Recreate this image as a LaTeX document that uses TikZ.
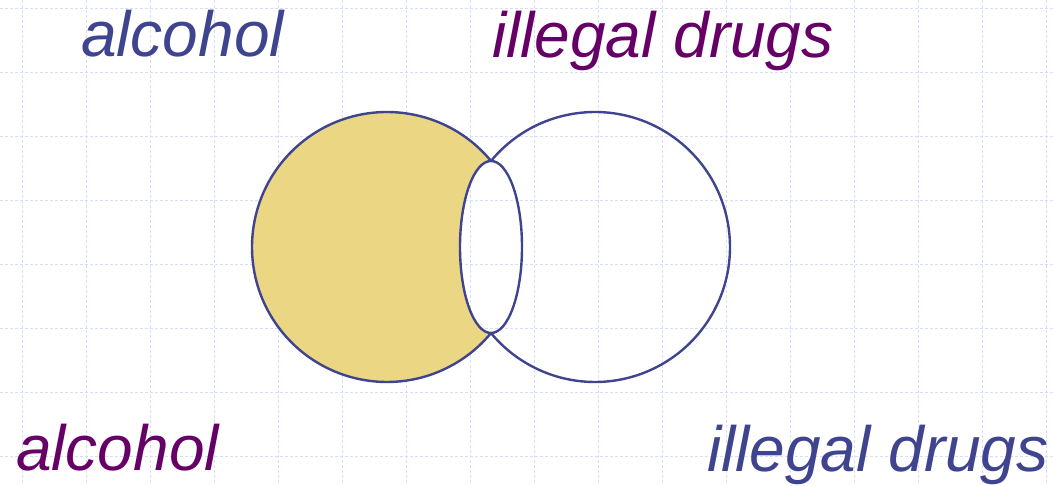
\documentclass[tikz,border=0pt]{standalone}
\usepackage{fontspec}
\setmainfont{Liberation Sans}
\usepackage{tikz}
\usetikzlibrary{positioning}
\definecolor{setblue}{HTML}{3F448F}
\definecolor{setpurple}{HTML}{660066}
\definecolor{setyellow}{HTML}{EAD683}
\definecolor{gridblue}{HTML}{D6DEF6}

\begin{document}
\begin{tikzpicture}[x=1pt, y=-1pt,
    lbl/.style={anchor=base west, inner sep=0pt, font=\fontsize{64}{72}\selectfont\itshape},
    rim/.style={setblue, line width=2.4pt}]
        \useasboundingbox (0,0) rectangle (1053,485);
        % background grid
        \foreach \gx in {0,...,16}
          \draw[gridblue, line width=1pt, dash pattern=on 3pt off 2pt] (22.7+64*\gx,0) -- (22.7+64*\gx,485);
        \foreach \gy in {0,...,7}
          \draw[gridblue, line width=1pt, dash pattern=on 3pt off 2pt] (0,8.3+64*\gy) -- (1053,8.3+64*\gy);
        \coordinate (alc) at (387,247);
        \coordinate (drg) at (595,247);
        \coordinate (mid) at (491,247);
        % shaded part of alcohol
        \fill[setyellow] (alc) ++(320.4:135) arc[start angle=320.4, end angle=39.6, radius=135]
          arc[start angle=90, end angle=270, x radius=31, y radius=86] -- cycle;
        \draw[rim] (alc) ++(320.4:135) arc[start angle=320.4, end angle=39.6, radius=135];
        \draw[rim] (drg) ++(-140.4:135) arc[start angle=-140.4, end angle=140.4, radius=135];
        \draw[rim] (mid) ellipse[x radius=31, y radius=86];
        % labels
        \node[lbl, text=setblue] (alctop) at (81,56) {alcohol};
        \node[lbl, text=setpurple] (drgtop) at (492,57) {illegal drugs};
        \node[lbl, text=setpurple] (alcbot) at (16,470) {alcohol};
        \node[lbl, text=setblue] (drgbot) at (707,471) {illegal drugs};
      \end{tikzpicture}
\end{document}
